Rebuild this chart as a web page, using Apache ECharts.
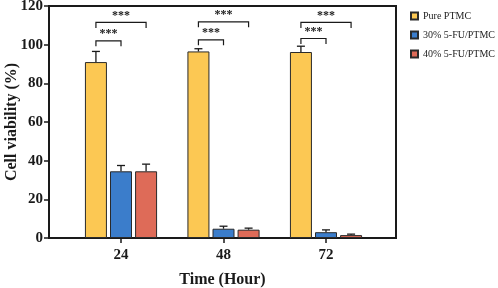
<!DOCTYPE html>
<html>
<head>
<meta charset="utf-8">
<script src="https://cdn.jsdelivr.net/npm/echarts@6/dist/echarts.min.js"></script>
<style>
  html, body { margin: 0; padding: 0; background: #fff; }
  #chart { width: 498px; height: 288px; }
</style>
</head>
<body>
<div id="chart"></div>
<script>
// 세포 생존율 막대 + 오차 막대 + 유의성 표시

const HOURS = [24, 48, 72];
const SERIES_NAMES = ["Pure PTMC", "30% 5-FU/PTMC", "40% 5-FU/PTMC"];
const PURE_MEAN = [91, 96.5, 96.2];
const PURE_ERR = [5.5, 1.4, 3.0];
const FU30_MEAN = [34.5, 4.8, 3.0];
const FU30_ERR = [3.0, 1.3, 1.2];
const FU40_MEAN = [34.5, 4.3, 1.5];
const FU40_ERR = [3.7, 0.8, 0.5];
const Y_TICKS = [0, 20, 40, 60, 80, 100, 120];

// 유의성 괄호: [시간, 시작 시리즈, 끝 시리즈, 괄호 높이]
const SIG_BRACKETS = [
  [24, 0, 1, 102], [24, 0, 2, 111.5],
  [48, 0, 1, 102.5], [48, 0, 2, 111.8],
  [72, 0, 1, 103.2], [72, 0, 2, 111.5],
];
const SIG_LABEL = "***";

const COLORS = ["#fcc853", "#3b7dcb", "#de6b58"];
const INK = "#1a1a1a";
const FONT = '"Liberation Serif", "Times New Roman", serif';
const BAR_WIDTH = 22;
const BAR_GAP = 0.14;
const BAR_STEP = BAR_WIDTH * (1 + BAR_GAP);

const means = [PURE_MEAN, FU30_MEAN, FU40_MEAN];
const errs = [PURE_ERR, FU30_ERR, FU40_ERR];

const barSeries = SERIES_NAMES.map((name, i) => ({
  name,
  type: "bar",
  barWidth: BAR_WIDTH,
  barGap: (BAR_GAP * 100) + "%",
  itemStyle: { color: COLORS[i], borderColor: "#2a2a2a", borderWidth: 1 },
  data: HOURS.map((h, k) => [h, means[i][k]]),
  z: 2,
}));

const errorSeries = SERIES_NAMES.map((name, i) => ({
  type: "custom",
  silent: true,
  z: 3,
  data: HOURS.map((h, k) => [h, means[i][k], means[i][k] + errs[i][k]]),
  renderItem: (params, api) => {
    const base = api.coord([api.value(0), api.value(1)]);
    const top = api.coord([api.value(0), api.value(2)]);
    const x = base[0] + (i - 1) * BAR_STEP;
    const style = { stroke: INK, lineWidth: 1.3 };
    return {
      type: "group",
      children: [
        { type: "line", shape: { x1: x, y1: base[1], x2: x, y2: top[1] }, style },
        { type: "line", shape: { x1: x - 4, y1: top[1], x2: x + 4, y2: top[1] }, style },
      ],
    };
  },
}));

const bracketSeries = {
  type: "custom",
  silent: true,
  z: 4,
  data: SIG_BRACKETS,
  renderItem: (params, api) => {
    const p = api.coord([api.value(0), api.value(3)]);
    const x1 = p[0] + (api.value(1) - 1) * BAR_STEP;
    const x2 = p[0] + (api.value(2) - 1) * BAR_STEP;
    const y = p[1];
    const style = { stroke: INK, lineWidth: 1.2, fill: null };
    return {
      type: "group",
      children: [
        { type: "polyline", shape: { points: [[x1, y + 5.5], [x1, y], [x2, y], [x2, y + 5.5]] }, style },
        {
          type: "text",
          style: {
            x: (x1 + x2) / 2, y: y - 1,
            text: SIG_LABEL, fill: INK,
            font: "bold 12px " + FONT,
            align: "center", verticalAlign: "bottom",
          },
        },
      ],
    };
  },
};

const chart = echarts.init(document.getElementById("chart"), null, { renderer: "canvas" });
chart.setOption({
  animation: false,
  backgroundColor: "#fff",
  grid: {
    left: 49, right: 102, top: 6, bottom: 50,
    outerBoundsMode: "none",
    containLabel: false,
    show: true, borderColor: INK, borderWidth: 2, backgroundColor: "transparent",
  },
  legend: {
    orient: "vertical",
    left: 405, top: 6,
    itemWidth: 7, itemHeight: 7, itemGap: 9,
    icon: "rect",
    textStyle: { fontFamily: FONT, fontSize: 10, color: "#222" },
    data: SERIES_NAMES,
  },
  xAxis: {
    type: "value",
    min: 7.14, max: 88.39,
    name: "Time (Hour)",
    nameLocation: "middle",
    nameGap: 34,
    nameTextStyle: { fontFamily: FONT, fontWeight: "bold", fontSize: 16, color: INK },
    axisLine: { lineStyle: { color: INK, width: 2 } },
    axisTick: { customValues: HOURS, length: 5, lineStyle: { color: INK, width: 1.5 } },
    axisLabel: { customValues: HOURS, margin: 10, fontFamily: FONT, fontWeight: "bold", fontSize: 15, color: INK },
    splitLine: { show: false },
  },
  yAxis: {
    type: "value",
    min: 0, max: 120, interval: 20,
    name: "Cell viability (%)",
    nameLocation: "middle",
    nameGap: 29,
    nameMoveOverlap: false,
    nameTextStyle: { fontFamily: FONT, fontWeight: "bold", fontSize: 16, color: INK },
    axisLine: { show: true, lineStyle: { color: INK, width: 2 } },
    axisTick: { show: true, length: 5, lineStyle: { color: INK, width: 1.5 } },
    axisLabel: {
      margin: 6, fontFamily: FONT, fontWeight: "bold", fontSize: 15, color: INK,
      formatter: (v) => (Y_TICKS.includes(v) ? String(v) : ""),
    },
    splitLine: { show: false },
  },
  series: [...barSeries, ...errorSeries, bracketSeries],
});
</script>
</body>
</html>
